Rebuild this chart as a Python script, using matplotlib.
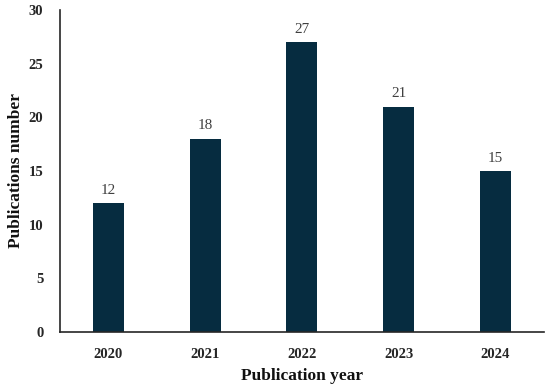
import matplotlib
matplotlib.use("Agg")
import matplotlib.pyplot as plt

years = ["2020", "2021", "2022", "2023", "2024"]
counts = [12, 18, 27, 21, 15]
yticks = [0, 5, 10, 15, 20, 25, 30]

plt.rcParams['font.family'] = ['Liberation Serif', 'DejaVu Serif']

fig = plt.figure(figsize=(5.5, 3.89), dpi=100)
ax = fig.add_axes([0.109, 0.147, 0.880, 0.827])

x = range(len(years))
bars = ax.bar(x, counts, width=0.32, color="#062c40")
for xi, v in zip(x, counts):
    ax.text(xi, v + 0.6, str(v), ha="center", va="bottom", fontsize=11, color="#404040")

ax.set_xlim(-0.5, 4.5)
ax.set_ylim(0, 30)
ax.set_xticks(list(x))
ax.set_xticklabels(years, fontsize=10.5, fontweight="bold", color="#262626")
ax.set_yticks(yticks)
ax.set_yticklabels([str(t) for t in yticks], fontsize=10.5, fontweight="bold", color="#262626")
ax.tick_params(axis="both", length=0)
ax.tick_params(axis="x", pad=12)
ax.tick_params(axis="y", pad=12)
for s in ["top", "right"]:
    ax.spines[s].set_visible(False)
for s in ["left", "bottom"]:
    ax.spines[s].set_color("#262626")
    ax.spines[s].set_linewidth(1.2)

ax.set_xlabel("Publication year", fontsize=12.5, fontweight="bold", color="#111111", labelpad=5)
ax.set_ylabel("Publications number", fontsize=12.5, fontweight="bold", color="#111111", labelpad=3)

fig.savefig("out.png", dpi=100)
